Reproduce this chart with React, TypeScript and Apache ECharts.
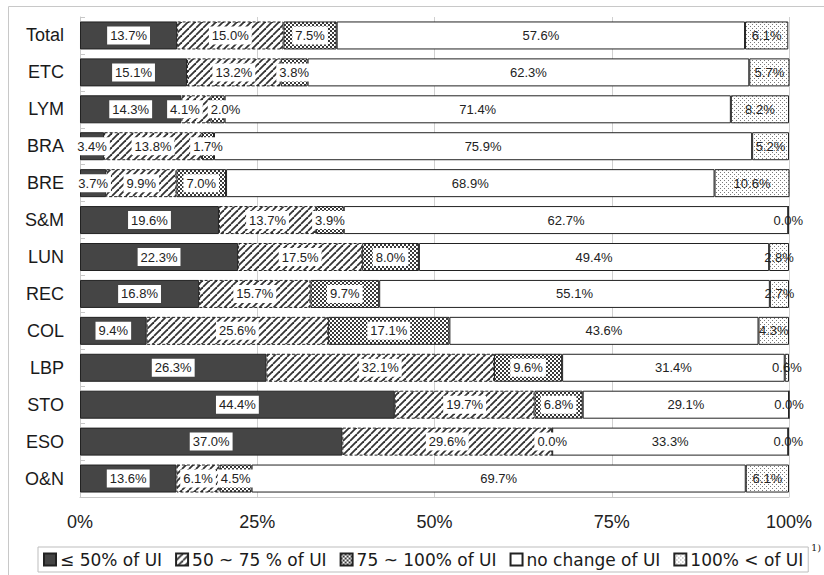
import React, { useEffect, useRef } from "react";
import * as echarts from "echarts";

const categories = ["Total", "ETC", "LYM", "BRA", "BRE", "S&M", "LUN", "REC", "COL", "LBP", "STO", "ESO", "O&N"];
const seriesNames = ["≤ 50% of UI", "50 ~ 75 % of UI", "75 ~ 100% of UI", "no change of UI", "100% < of UI"];
const le50 = [13.7, 15.1, 14.3, 3.4, 3.7, 19.6, 22.3, 16.8, 9.4, 26.3, 44.4, 37.0, 13.6];
const s50to75 = [15.0, 13.2, 4.1, 13.8, 9.9, 13.7, 17.5, 15.7, 25.6, 32.1, 19.7, 29.6, 6.1];
const s75to100 = [7.5, 3.8, 2.0, 1.7, 7.0, 3.9, 8.0, 9.7, 17.1, 9.6, 6.8, 0.0, 4.5];
const noChange = [57.6, 62.3, 71.4, 75.9, 68.9, 62.7, 49.4, 55.1, 43.6, 31.4, 29.1, 33.3, 69.7];
const over100 = [6.1, 5.7, 8.2, 5.2, 10.6, 0.0, 2.8, 2.7, 4.3, 0.6, 0.0, 0.0, 6.1];
const xTicks = [0, 25, 50, 75, 100];

// label nudges for crowded small segments: [seriesIndex, categoryIndex, dx]
const labelNudges: [number, number, number][] = [
  [1, 2, -11],
  [2, 2, 8],
];

function makeTile(kind: string) {
  const c = document.createElement("canvas");
  let w = 4, h = 4;
  if (kind === "hatch") { w = 7; h = 7; }
  c.width = w; c.height = h;
  const ctx = c.getContext("2d")!;
  ctx.fillStyle = "#ffffff";
  ctx.fillRect(0, 0, w, h);
  if (kind === "hatch") {
    ctx.strokeStyle = "#333333";
    ctx.lineWidth = 1.8;
    for (const k of [-7, 0, 7]) {
      ctx.beginPath();
      ctx.moveTo(k, 7);
      ctx.lineTo(k + 7, 0);
      ctx.stroke();
    }
  } else if (kind === "checker") {
    ctx.fillStyle = "#3a3a3a";
    ctx.fillRect(0, 0, 2, 2);
    ctx.fillRect(2, 2, 2, 2);
  } else if (kind === "dots") {
    ctx.fillStyle = "#7a7a7a";
    ctx.fillRect(0, 0, 1, 1);
    ctx.fillRect(2, 2, 1, 1);
  }
  return { image: c as any, repeat: "repeat", imageWidth: w, imageHeight: h } as any;
}

export default function App() {
  const ref = useRef<HTMLDivElement>(null);
  useEffect(() => {
    if (!ref.current) return;
    const chart = echarts.init(ref.current, null, { renderer: "svg" });
    const hatch = makeTile("hatch");
    const checker = makeTile("checker");
    const dots = makeTile("dots");
    const fmt = (p: any) => Number(p.value).toFixed(1) + "%";
    const baseLabel = {
      show: true,
      position: "inside",
      formatter: fmt,
      fontFamily: "Liberation Sans, Arial, sans-serif",
      fontSize: 13,
      color: "#222",
    };
    const whiteLabel = { ...baseLabel, backgroundColor: "#ffffff", padding: [3, 3, 2, 3] };
    const mk = (i: number, data: number[], color: any, label: any, borderType: any = "solid") => ({
      type: "bar",
      name: seriesNames[i],
      stack: "total",
      data,
      barWidth: 28,
      itemStyle: { color, borderColor: "#222", borderWidth: 1, borderType },
      label,
      labelLayout: (p: any) => {
        const n = labelNudges.find((t) => t[0] === i && t[1] === p.dataIndex);
        return n ? { dx: n[2], hideOverlap: false } : { hideOverlap: false };
      },
    });
    const option: any = {
      animation: false,
      backgroundColor: "#ffffff",
      grid: { left: 80, right: 35, top: 17, bottom: 78, containLabel: false },
      xAxis: {
        type: "value",
        min: 0,
        max: 100,
        interval: 25,
        axisLine: { show: true, lineStyle: { color: "#c8c8c8" } },
        axisTick: { show: false },
        splitLine: { show: true, lineStyle: { color: "#d0d0d0", width: 1 } },
        axisLabel: {
          formatter: (v: number) => (xTicks.includes(v) ? v + "%" : ""),
          fontFamily: "Liberation Sans, Arial, sans-serif",
          fontSize: 18,
          color: "#222",
          margin: 16,
        },
      },
      yAxis: {
        type: "category",
        data: categories,
        inverse: true,
        axisLine: { show: true, lineStyle: { color: "#c8c8c8" } },
        axisTick: { show: true, inside: true, length: 5, lineStyle: { color: "#c8c8c8" } },
        axisLabel: {
          fontFamily: "Liberation Sans, Arial, sans-serif",
          fontSize: 18,
          color: "#1a1a1a",
          margin: 16,
        },
      },
      legend: {
        left: 38,
        top: 547,
        orient: "horizontal",
        data: seriesNames,
        itemWidth: 12,
        itemHeight: 12,
        itemGap: 13,
        padding: [4, 5, 4, 5],
        borderColor: "#bdbdbd",
        borderWidth: 1,
        backgroundColor: "#ffffff",
        icon: "rect",
        textStyle: { fontFamily: "DejaVu Sans, sans-serif", fontSize: 17, color: "#1a1a1a", padding: [0, 0, 0, -1] },
        selectedMode: false,
      },
      graphic: [
        {
          type: "rect",
          z: -10,
          silent: true,
          shape: { x: 8.5, y: 6.5, width: 900, height: 700 },
          style: { fill: "none", stroke: "#c8c8c8", lineWidth: 1 },
        },
        {
          type: "text",
          x: 811,
          y: 542,
          silent: true,
          style: { text: "1)", fontFamily: "DejaVu Serif, serif", fontSize: 10, fill: "#222" },
        },
      ],
      series: [
        mk(0, le50, "#454545", whiteLabel),
        mk(1, s50to75, hatch, whiteLabel, [3, 2]),
        mk(2, s75to100, checker, whiteLabel),
        mk(3, noChange, "#ffffff", baseLabel),
        mk(4, over100, dots, baseLabel),
      ],
    };
    chart.setOption(option);
    return () => chart.dispose();
  }, []);
  return <div ref={ref} style={{ width: 824, height: 575, position: "absolute", left: 0, top: 0 }} />;
}
